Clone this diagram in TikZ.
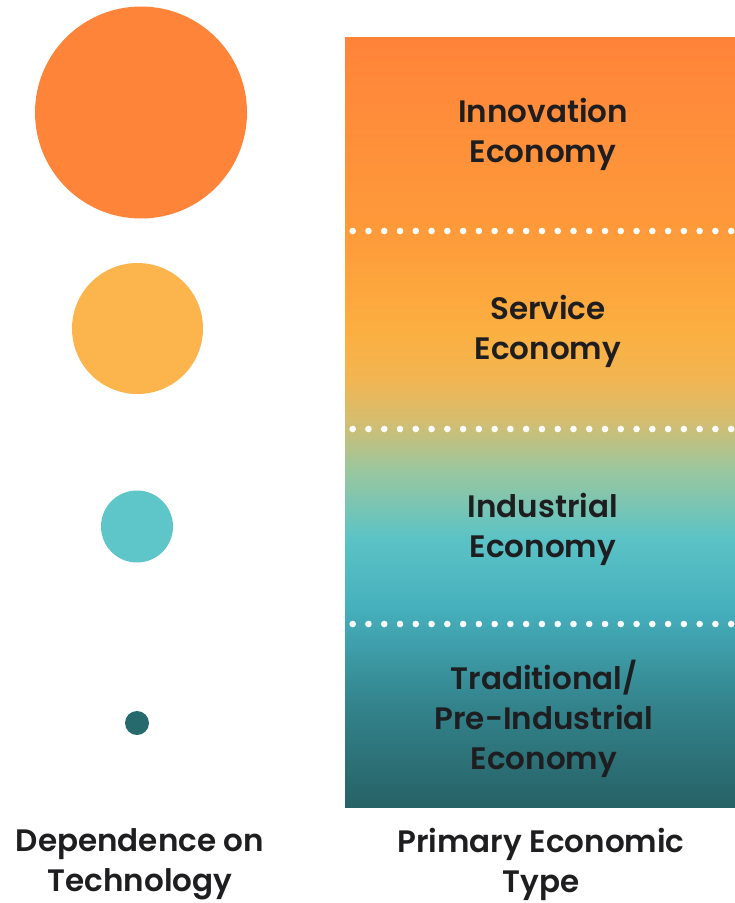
\documentclass[tikz,border=0pt]{standalone}
\usepackage{fontspec}
\setmainfont{Poppins}[BoldFont={Poppins SemiBold}]

\definecolor{inkdark}{HTML}{1E1E20}
\definecolor{dotOrange}{HTML}{FE843A}
\definecolor{dotYellow}{HTML}{FCB44C}
\definecolor{dotTeal}{HTML}{5EC5C8}
\definecolor{dotDeep}{HTML}{276A6E}

% gradient of the economy column, bottom (25bp) to top (75bp)
\definecolor{ecoA}{HTML}{266266}
\definecolor{ecoB}{HTML}{34858E}
\definecolor{ecoC}{HTML}{45AFBC}
\definecolor{ecoD}{HTML}{5BC3C6}
\definecolor{ecoE}{HTML}{9AC79F}
\definecolor{ecoF}{HTML}{D6BD6E}
\definecolor{ecoG}{HTML}{F2B552}
\definecolor{ecoH}{HTML}{FCAF40}
\definecolor{ecoI}{HTML}{FE9A3A}
\definecolor{ecoJ}{HTML}{FF843A}
\pgfdeclareverticalshading{econshade}{100bp}{%
  color(0bp)=(ecoA); color(25bp)=(ecoA); color(31.96bp)=(ecoB);
  color(37.8bp)=(ecoC); color(42.4bp)=(ecoD); color(46.9bp)=(ecoE);
  color(50.2bp)=(ecoF); color(52.8bp)=(ecoG); color(56bp)=(ecoH);
  color(62.5bp)=(ecoI); color(75bp)=(ecoJ); color(100bp)=(ecoJ)}

\begin{document}
\begin{tikzpicture}[x=1pt,y=-1pt,
    econtext/.style={align=center,text=inkdark,
      font=\bfseries\fontsize{31}{40}\selectfont},
    bubble/.style={circle,inner sep=0pt,minimum size=#1}]
  \useasboundingbox (0,0) rectangle (735,903);

  % column of economic types
  \shade[shading=econshade] (345,37.5) rectangle (735,807);
  \begin{scope}
    \clip (345,37.5) rectangle (735,807);
    \foreach \yy in {231,429,624}
      \foreach \k in {0,...,24}
        \fill[white] (352.7+15.77*\k,\yy) circle (3.3);
  \end{scope}

  \node[econtext] (innov) at (543,134) {Innovation\\Economy};
  \node[econtext] (serv) at (548,331) {Service\\Economy};
  \node[econtext] (indus) at (543,529) {Industrial\\Economy};
  \node[econtext] (trad) at (544,719) {Traditional/\\Pre-Industrial\\Economy};

  % bubbles for technology dependence
  \node[bubble=212pt,fill=dotOrange] (big) at (141,112.5) {};
  \node[bubble=131pt,fill=dotYellow] (mid) at (137.5,328.5) {};
  \node[bubble=72pt,fill=dotTeal] (small) at (137,526.5) {};
  \node[bubble=24pt,fill=dotDeep] (tiny) at (137,723) {};

  % axis captions
  \node[econtext] (depend) at (140,864) {Dependence on\\Technology};
  \node[econtext] (primary) at (541,864) {Primary Economic\\Type};
\end{tikzpicture}
\end{document}
